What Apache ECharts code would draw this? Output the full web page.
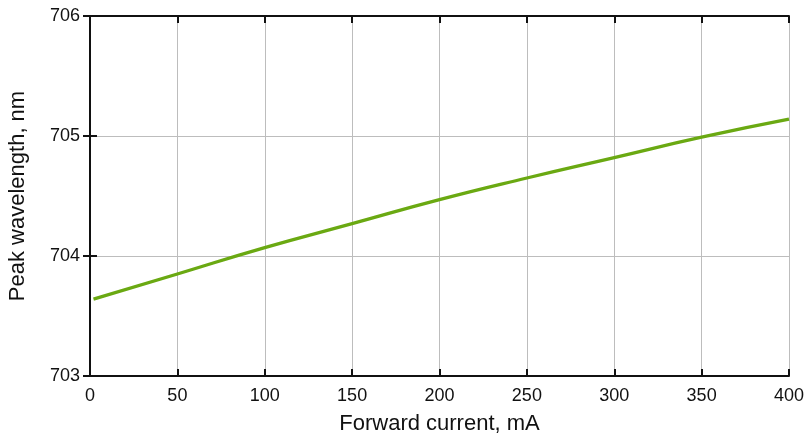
<!DOCTYPE html>
<html>
<head>
<meta charset="utf-8">
<script src="https://cdn.jsdelivr.net/npm/echarts@6/dist/echarts.min.js"></script>
<style>
  html, body { margin: 0; padding: 0; background: #fff; }
  #chart { width: 807px; height: 436px; }
</style>
</head>
<body>
<div id="chart"></div>
<script>
// values
var currents = [2, 50, 100, 150, 200, 250, 300, 350, 400];
var wavelengths = [703.64, 703.85, 704.07, 704.27, 704.47, 704.65, 704.82, 704.99, 705.14];

var xTitle = 'Forward current, mA';
var yTitle = 'Peak wavelength, nm';

var myChart = echarts.init(document.getElementById('chart'));

var font = 'Liberation Sans, Arial, sans-serif';

var pts = currents.map(function (c, i) { return [c, wavelengths[i]]; });

var option = {
    animation: false,
    grid: { left: 90, right: 18, top: 16, bottom: 60, outerBoundsMode: 'none' },
    xAxis: [{
        type: 'value',
        min: 0, max: 400, interval: 50,
        name: xTitle,
        nameLocation: 'middle',
        nameGap: 37,
        nameTextStyle: { fontFamily: font, fontSize: 22, color: '#111' },
        axisLine: { show: true, lineStyle: { color: '#111', width: 2 } },
        axisTick: { show: true, inside: true, length: 7, lineStyle: { color: '#111', width: 2 } },
        axisLabel: { fontFamily: font, fontSize: 18, color: '#111', margin: 11 },
        splitLine: { show: true, lineStyle: { color: '#bdbdbd', width: 1 } }
    }, {
        type: 'value',
        position: 'top',
        min: 0, max: 400, interval: 50,
        axisLine: { show: true, lineStyle: { color: '#111', width: 2 } },
        axisTick: { show: true, inside: true, length: 7, lineStyle: { color: '#111', width: 2 } },
        axisLabel: { show: false },
        splitLine: { show: false }
    }],
    yAxis: [{
        type: 'value',
        min: 703, max: 706, interval: 1,
        name: yTitle,
        nameLocation: 'middle',
        nameGap: 61,
        nameTextStyle: { fontFamily: font, fontSize: 22, color: '#111' },
        axisLine: { show: true, lineStyle: { color: '#111', width: 2 } },
        axisTick: { show: true, inside: true, length: 7, lineStyle: { color: '#111', width: 2 } },
        axisLabel: { fontFamily: font, fontSize: 18, color: '#111', margin: 10 },
        splitLine: { show: true, lineStyle: { color: '#bdbdbd', width: 1 } }
    }, {
        type: 'value',
        position: 'right',
        min: 703, max: 706, interval: 1,
        axisLine: { show: true, lineStyle: { color: '#111', width: 2 } },
        axisTick: { show: true, inside: true, length: 7, lineStyle: { color: '#111', width: 2 } },
        axisLabel: { show: false },
        splitLine: { show: false }
    }],
    series: [{
        type: 'line',
        data: pts,
        smooth: true,
        symbol: 'none',
        lineStyle: { color: '#6aa912', width: 3.3 }
    }]
};

myChart.setOption(option);
</script>
</body>
</html>
